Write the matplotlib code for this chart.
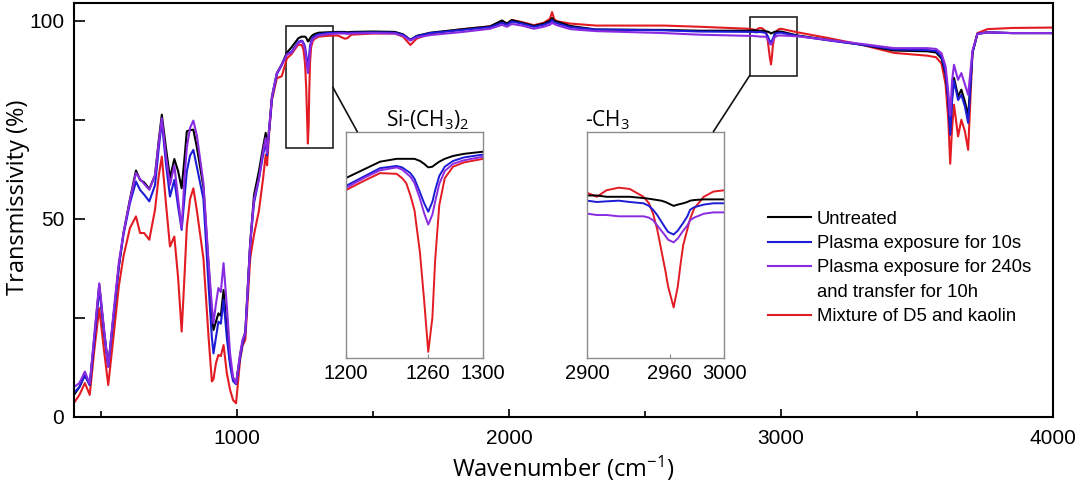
import matplotlib
matplotlib.use("Agg")
import matplotlib.pyplot as plt
from matplotlib.lines import Line2D
from matplotlib.patches import Rectangle, ConnectionPatch

plt.rcParams["font.family"] = ["Liberation Sans", "DejaVu Sans"]
plt.rcParams["mathtext.fontset"] = "custom"
plt.rcParams["mathtext.rm"] = "Open Sans"
plt.rcParams["mathtext.default"] = "rm"

# wavenumber grid (cm-1) shared by the four spectra
WAVENUMBER = [400, 420, 440, 458, 475, 493, 510, 526, 545, 565,
              582, 606, 628, 643, 658, 677, 698, 712, 723, 738,
              753, 769, 783, 796, 806, 815, 827, 839, 852, 876,
              895, 907, 913, 922, 931, 940, 950, 962, 974, 985,
              996, 1011, 1020, 1030, 1048, 1062, 1080, 1095, 1105, 1110,
              1118, 1128, 1146, 1164, 1183, 1200, 1213, 1225, 1237, 1241, 1244, 1247,
              1250, 1254, 1257, 1260, 1263, 1265, 1268, 1272, 1278, 1286,
              1300, 1330, 1370, 1395, 1405, 1420, 1500, 1580, 1610, 1637,
              1660, 1710, 1830, 1930, 1974, 1992, 2010, 2047, 2091, 2127,
              2150, 2158, 2166, 2176, 2225, 2320, 2570, 2700, 2880, 2900,
              2907, 2914, 2923, 2931, 2941, 2945, 2948, 2951, 2954, 2957, 2959, 2963, 2966,
              2968, 2970, 2973, 2975, 2978, 2985, 2992, 3000, 3060, 3170, 3293, 3415,
              3538, 3570, 3590, 3605, 3615, 3622, 3629, 3636, 3651, 3663,
              3676, 3688, 3696, 3704, 3722, 3759, 3850, 4000]

UNTREATED = [5.5, 7.5, 10.5, 8.0, 20.0, 33.3, 22.0, 12.8, 25.0, 38.0,
             46.4, 55.0, 62.2, 59.8, 59.2, 57.5, 61.0, 70.0, 76.3, 68.0,
             60.3, 65.1, 62.0, 57.7, 65.0, 72.1, 72.4, 72.5, 68.0, 58.0,
             38.0, 26.0, 21.9, 24.0, 26.1, 25.5, 32.0, 22.0, 14.0, 9.5,
             8.5, 15.5, 19.0, 21.5, 44.0, 56.0, 62.0, 68.0, 71.7, 67.5,
             73.0, 80.9, 86.8, 89.0, 92.0, 93.3, 94.5, 95.6, 96.0, 96.0, 96.0, 96.0,
             96.0, 95.7, 95.3, 94.8, 94.9, 95.2, 95.6, 96.0, 96.4, 96.7,
             97.0, 97.1, 97.2, 97.2, 97.1, 97.2, 97.3, 97.2, 96.6, 95.2,
             96.2, 97.0, 97.9, 98.6, 100.1, 99.3, 100.2, 99.5, 98.7, 99.3,
             100.0, 100.7, 100.0, 99.8, 98.7, 97.8, 97.7, 97.5, 97.5, 97.6,
             97.6, 97.5, 97.5, 97.5, 97.4, 97.35, 97.3, 97.25, 97.2, 97.1, 97.0, 96.8, 96.9,
             96.95, 97.0, 97.1, 97.2, 97.25, 97.3, 97.3, 97.3, 96.3, 95.2, 94.0, 92.5,
             92.3, 92.0, 90.5, 86.5, 80.0, 72.5, 81.0, 85.6, 80.9, 82.6,
             79.6, 75.9, 84.0, 92.0, 96.7, 97.1, 96.9, 96.9]

PLASMA_10S = [6.0, 7.5, 10.5, 8.0, 19.5, 32.5, 21.5, 12.6, 25.0, 38.0,
              46.0, 54.0, 59.4, 57.3, 56.1, 54.4, 58.5, 68.0, 74.6, 64.0,
              55.6, 59.8, 53.0, 47.2, 55.0, 62.0, 66.0, 67.4, 63.0, 55.0,
              33.0, 20.0, 16.0, 20.0, 24.0, 23.5, 29.5, 20.0, 13.0, 9.0,
              8.2, 15.0, 18.5, 21.0, 43.5, 54.0, 60.0, 66.0, 69.6, 66.0,
              72.5, 80.5, 86.5, 88.8, 91.6, 92.2, 93.5, 94.7, 95.0, 94.8, 94.4, 94.0,
              93.2, 91.3, 89.8, 88.6, 90.0, 91.6, 93.6, 94.9, 95.7, 96.2,
              96.6, 96.9, 97.0, 97.0, 96.9, 97.0, 97.1, 97.0, 96.5, 95.2,
              96.1, 96.9, 97.7, 98.4, 99.5, 99.0, 99.8, 99.3, 98.5, 99.0,
              99.6, 100.2, 99.6, 99.4, 98.4, 97.8, 97.6, 97.3, 97.2, 97.2,
              97.1, 97.15, 97.2, 97.1, 97.0, 96.8, 96.5, 96.1, 95.6, 95.1, 94.8, 94.6, 94.9,
              95.2, 95.5, 96.0, 96.5, 96.7, 96.9, 97.0, 97.0, 96.2, 95.1, 94.0, 92.8,
              92.6, 92.4, 91.0, 87.0, 80.0, 71.2, 80.0, 84.8, 80.0, 81.3,
              78.4, 74.2, 83.0, 92.0, 96.7, 97.1, 96.9, 96.9]

PLASMA_240S = [7.5, 8.5, 11.4, 8.3, 21.0, 33.7, 22.5, 12.6, 26.0, 39.0,
               46.4, 54.8, 61.6, 60.0, 58.8, 57.3, 61.0, 69.5, 75.4, 66.0,
               58.5, 63.5, 55.0, 47.6, 60.0, 68.0, 73.0, 74.8, 71.0, 59.0,
               39.0, 28.0, 23.6, 28.5, 32.5, 31.5, 38.8, 28.0, 16.0, 10.0,
               8.4, 16.0, 19.5, 21.1, 43.8, 55.0, 60.0, 67.0, 70.4, 66.5,
               73.0, 80.9, 86.8, 88.9, 91.5, 91.9, 93.3, 94.4, 94.8, 94.5, 94.0, 93.5,
               92.6, 90.4, 88.4, 86.8, 88.2, 90.0, 92.5, 94.3, 95.3, 95.8,
               96.3, 96.6, 96.8, 96.8, 96.7, 96.8, 96.9, 96.8, 96.2, 95.0,
               95.8, 96.4, 97.2, 98.0, 99.0, 98.5, 99.2, 98.8, 98.0, 98.5,
               99.0, 99.5, 99.2, 98.9, 97.9, 97.4, 96.9, 96.5, 96.2, 96.2,
               96.1, 96.1, 96.0, 96.0, 96.0, 95.9, 95.7, 95.3, 94.9, 94.5, 94.2, 94.0, 94.3,
               94.6, 94.9, 95.3, 95.7, 95.9, 96.2, 96.3, 96.3, 96.1, 95.2, 94.2, 93.1,
               93.1, 92.9, 91.8, 88.5, 82.0, 76.0, 85.0, 88.9, 85.1, 86.8,
               83.9, 81.3, 87.0, 92.5, 96.7, 97.1, 96.9, 96.9]

MIXTURE = [3.5, 5.5, 8.5, 5.5, 17.0, 27.4, 17.0, 8.0, 20.0, 33.0,
           40.5, 47.7, 50.6, 46.4, 46.4, 44.7, 52.3, 61.0, 65.7, 54.0,
           43.0, 45.5, 35.0, 21.5, 35.0, 48.0, 55.0, 57.7, 52.0, 40.0,
           20.0, 8.9, 9.5, 13.5, 15.6, 15.3, 18.1, 11.0, 6.8, 4.2,
           3.4, 14.5, 18.0, 19.4, 40.0, 46.0, 52.0, 60.0, 66.2, 63.5,
           72.0, 80.0, 85.5, 86.0, 90.5, 91.6, 92.9, 94.0, 93.9, 93.3, 92.6, 90.9,
           88.8, 82.8, 76.2, 69.0, 73.8, 81.8, 89.5, 93.3, 94.9, 95.5,
           96.0, 96.2, 96.3, 95.5, 95.6, 96.5, 96.8, 96.8, 96.0, 93.9,
           95.5, 96.8, 97.9, 98.6, 99.8, 99.3, 100.2, 99.7, 98.9, 99.5,
           100.5, 102.2, 100.4, 99.9, 99.3, 98.8, 98.8, 98.5, 98.0, 97.8,
           97.5, 98.0, 98.2, 98.1, 97.5, 97.0, 96.2, 95.0, 93.4, 91.8, 90.6, 89.0, 90.6,
           92.3, 93.8, 95.0, 95.8, 96.6, 97.5, 97.9, 98.0, 97.1, 95.7, 94.0, 91.9,
           91.2, 90.8, 89.2, 84.0, 75.0, 63.9, 73.0, 78.8, 70.8, 75.0,
           72.1, 67.4, 80.0, 92.0, 96.9, 97.9, 98.2, 98.3]

LABELS = ["Untreated", "Plasma exposure for 10s",
          "Plasma exposure for 240s", "and transfer for 10h",
          "Mixture of D5 and kaolin"]
COLORS = {"k": "#000000", "b": "#1c1cd6", "p": "#8a2be2", "r": "#e31b23"}


def draw_spectra(a, lw):
    lr, = a.plot(WAVENUMBER, MIXTURE, color=COLORS["r"], lw=lw)
    lk, = a.plot(WAVENUMBER, UNTREATED, color=COLORS["k"], lw=lw)
    lb, = a.plot(WAVENUMBER, PLASMA_10S, color=COLORS["b"], lw=lw)
    lp, = a.plot(WAVENUMBER, PLASMA_240S, color=COLORS["p"], lw=lw)
    return lk, lb, lp, lr


fig = plt.figure(figsize=(10.8, 4.86), dpi=100)
ax = fig.add_axes([0.0685, 0.1426, 0.9065, 0.8512])
lk, lb, lp, lr = draw_spectra(ax, 1.5)

ax.set_xlim(400, 4000)
ax.set_ylim(0, 104.5)
ax.set_xticks([1000, 2000, 3000, 4000])
ax.set_xticks([500, 1500, 2500, 3500], minor=True)
ax.set_yticks([0, 50, 100])
ax.set_yticks([25, 75], minor=True)
ax.tick_params(which="both", direction="in", width=1.2, labelsize=15)
ax.tick_params(axis="x", which="major", length=6, pad=9)
ax.tick_params(axis="x", which="minor", length=4)
ax.tick_params(axis="y", which="both", length=8, pad=7)
for s in ax.spines.values():
    s.set_linewidth(1.5)

ax.set_xlabel(r"Wavenumber (cm$^{-1}$)", fontsize=17, family="Open Sans")
ax.set_ylabel("Transmissivity (%)", fontsize=17, family="Open Sans")
ax.xaxis.set_label_coords(0.5, -0.126)
ax.xaxis.label.set_va("center")
ax.yaxis.set_label_coords(-0.057, 0.53)
ax.yaxis.label.set_va("center")

blank = Line2D([], [], color="none")
ax.legend([lk, lb, lp, blank, lr], LABELS, loc="upper left",
          bbox_to_anchor=(0.709, 0.498), frameon=False, fontsize=13.3,
          handlelength=2.3, handletextpad=0.33, labelspacing=0.4,
          borderpad=0, borderaxespad=0)

# zoom frames in the main plot
ax.add_patch(Rectangle((1180, 67.8), 172, 30.8, fill=False, ec="#222222", lw=1.2))
ax.add_patch(Rectangle((2884, 86.1), 173, 14.9, fill=False, ec="#222222", lw=1.2))

# insets
ins1 = fig.add_axes([0.3201, 0.2628, 0.1274, 0.4663])
ins2 = fig.add_axes([0.5438, 0.2628, 0.1269, 0.4663])
draw_spectra(ins1, 1.4)
draw_spectra(ins2, 1.4)
ins1.set_xlim(1200, 1300)
ins1.set_ylim(68.1, 99.8)
ins1.set_xticks([1200, 1260, 1300])
ins2.set_xlim(2900, 3000)
ins2.set_ylim(85.1, 102.5)
ins2.set_xticks([2900, 2960, 3000])
for ins in (ins1, ins2):
    ins.set_yticks([])
    ins.tick_params(axis="x", direction="in", length=3, color="#888888",
                    labelsize=14.5, pad=4)
    for s in ins.spines.values():
        s.set_color("#8c8c8c")
        s.set_linewidth(1.0)

ins1.text(0.598, 1.022, r"Si-(CH$_3$)$_2$", transform=ins1.transAxes,
          ha="center", va="baseline", fontsize=15, family="Open Sans")
ins2.text(-0.017, 1.022, r"-CH$_3$", transform=ins2.transAxes,
          ha="left", va="baseline", fontsize=15, family="Open Sans")

# connector lines from the frames to the insets
for xyA, ins, xyB in (((1352, 83.2), ins1, (0.084, 1.0)),
                      ((2884, 86.1), ins2, (0.92, 1.0))):
    con = ConnectionPatch(xyA=xyA, coordsA=ax.transData, xyB=xyB,
                          coordsB=ins.transAxes, color="#111111", lw=1.2)
    fig.add_artist(con)

fig.savefig("out.png", dpi=100)
